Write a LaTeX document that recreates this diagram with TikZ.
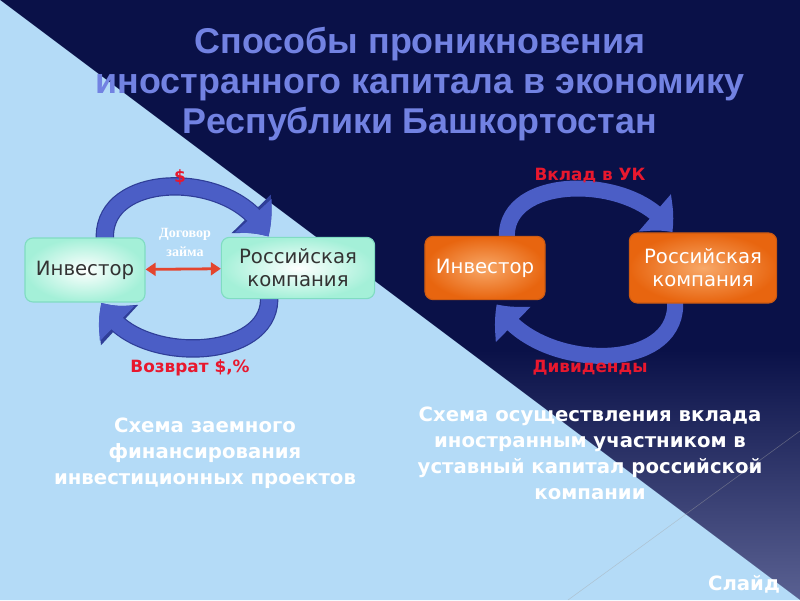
\documentclass[tikz,border=0pt]{standalone}
\usepackage{fontspec}
\setmainfont{DejaVu Sans}
\newfontfamily\headfont{Liberation Sans}
\newfontfamily\notefont{Liberation Serif}
\usetikzlibrary{arrows.meta}
\usetikzlibrary{bending}
\usetikzlibrary{backgrounds}
\definecolor{navybg}{HTML}{0A1148}
\definecolor{navyfade}{HTML}{5A6192}
\definecolor{skybg}{HTML}{B4DBF7}
\definecolor{headblue}{HTML}{7282E2}
\definecolor{ringblue}{HTML}{4B5EC6}
\definecolor{ringedge}{HTML}{2F3E98}
\definecolor{mintfill}{HTML}{A4F0D8}
\definecolor{mintedge}{HTML}{80DCC2}
\definecolor{orangefill}{HTML}{E8650F}
\definecolor{orangecore}{HTML}{F8A868}
\definecolor{orangeedge}{HTML}{CC5A12}
\definecolor{flowred}{HTML}{E8182E}
\definecolor{loanred}{HTML}{E4452E}

\begin{document}
\begin{tikzpicture}[x=0.025cm, y=0.025cm,
  firmbox/.style={rectangle, rounded corners=0.2cm, line width=0.8pt, inner sep=0pt, align=center, font=\fontsize{14}{16.5}\selectfont},
  mintbox/.style={firmbox, draw=mintedge, shading=radial, inner color=white, outer color=mintfill, text=black!80},
  orangebox/.style={firmbox, draw=orangeedge, shading=radial, inner color=orangecore, outer color=orangefill, text=white},
  ringarrow/.style={draw=ringblue, line width=0.4cm, -{Triangle[length=0.65cm, width=1.2cm, bend]}},
  edgedring/.style={ringarrow, preaction={draw=ringedge, line width=0.46cm, -{Triangle[length=0.72cm, width=1.32cm, bend]}}},
  loanarrow/.style={draw=loanred, line width=0.07cm, {Triangle[length=0.25cm, width=0.32cm]}-{Triangle[length=0.25cm, width=0.32cm]}},
  flowlabel/.style={text=flowred, font=\bfseries\fontsize{12}{14}\selectfont},
  notetext/.style={text=white, align=center, font=\bfseries\fontsize{14}{18.5}\selectfont}]
\useasboundingbox (0,0) rectangle (800,600);
\node[headblue, font=\headfont\bfseries\fontsize{25.5}{28.5}\selectfont, align=center] (title) at (420,516) {Способы проникновения\\иностранного капитала в экономику\\Республики Башкортостан};
\node[mintbox, minimum width=3cm, minimum height=1.6cm] (investorleft) at (85,330) {Инвестор};
\node[mintbox, minimum width=3.83cm, minimum height=1.53cm] (companyleft) at (298,332) {Российская\\компания};
\node[orangebox, minimum width=3cm, minimum height=1.58cm] (investorright) at (485,332) {Инвестор};
\node[orangebox, minimum width=3.68cm, minimum height=1.75cm] (companyright) at (703,332) {Российская\\компания};
\begin{scope}[on background layer]
\fill[navybg] (0,0) rectangle (800,600);
\shade[top color=navybg, bottom color=navyfade] (466.7,250) -- (800,250) -- (800,0) -- cycle;
\fill[skybg] (0,600) -- (800,0) -- (0,0) -- cycle;
\draw[gray!70, opacity=0.45, line width=0.4pt] (568,0) -- (800,169);
\draw[edgedring] ([xshift=0.5cm,yshift=-0.1cm]investorleft.north) to[out=95, in=113, looseness=1.15] ([xshift=-0.75cm]companyleft.north);
\draw[edgedring] ([xshift=-0.725cm,yshift=0.1cm]companyleft.south) to[out=-85, in=-68, looseness=1.05] ([xshift=0.425cm]investorleft.south);
\draw[ringarrow] ([xshift=0.55cm,yshift=-0.1cm]investorright.north) to[out=95, in=119, looseness=1.05] ([xshift=-0.775cm]companyright.north);
\draw[ringarrow] ([xshift=-0.7cm,yshift=0.1cm]companyright.south) to[out=-85, in=-62, looseness=1.1] ([xshift=0.3cm,yshift=-0.1cm]investorright.south);
\end{scope}
\draw[loanarrow] (investorleft) -- (companyleft);
\node[flowlabel] (dollar) at (180,423) {\$};
\node[flowlabel] (repay) at (190,232) {Возврат \$,\%};
\node[flowlabel] (deposit) at (590,424) {Вклад в УК};
\node[flowlabel] (dividend) at (590,232) {Дивиденды};
\node[text=white, font=\notefont\bfseries\fontsize{10}{13.5}\selectfont, align=center] (loan) at (185,358) {Договор\\займа};
\node[notetext] (schemeleft) at (205,147) {Схема заемного\\финансирования\\инвестиционных проектов};
\node[notetext] (schemeright) at (590,147) {Схема осуществления вклада\\иностранным участником в\\уставный капитал российской\\компании};
\node[notetext, anchor=base] (slide) at (744,10) {Слайд};
\end{tikzpicture}
\end{document}
